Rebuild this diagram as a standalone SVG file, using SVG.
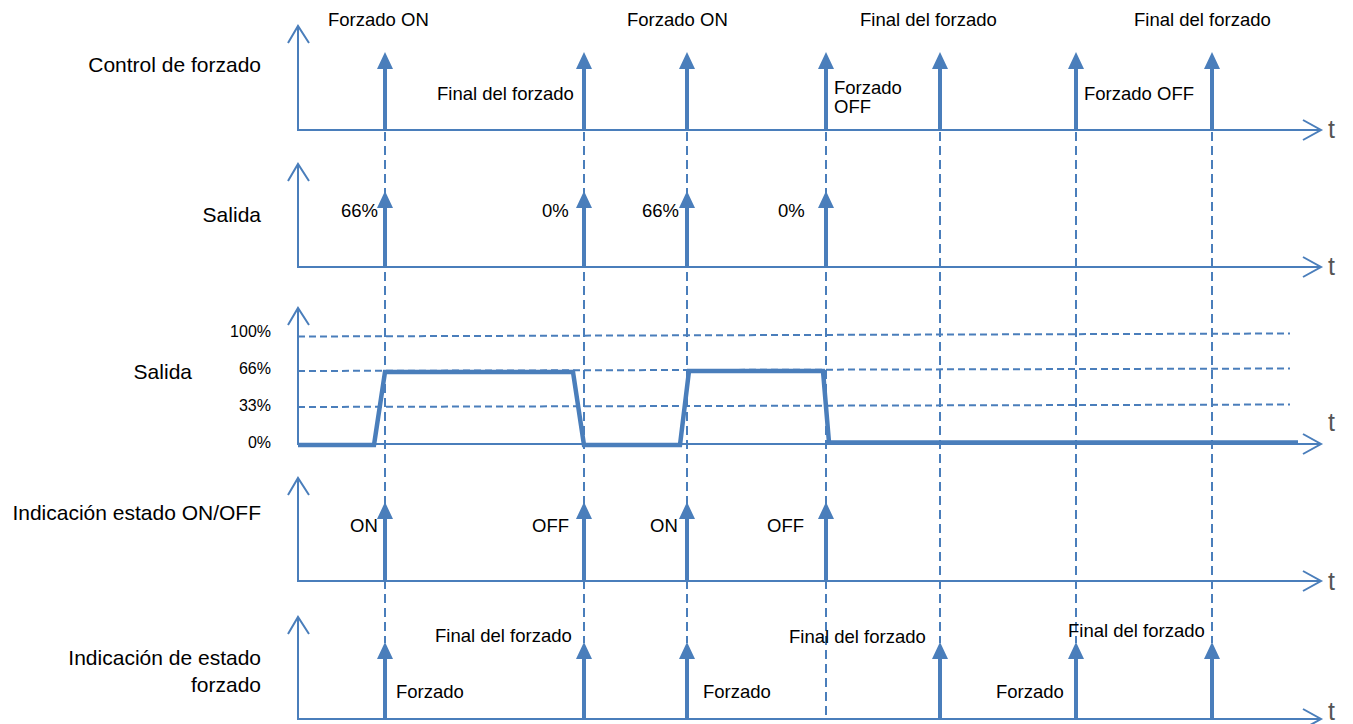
<svg xmlns="http://www.w3.org/2000/svg" width="1353" height="724" viewBox="0 0 1353 724">
<style>
text{font-family:"Liberation Sans",Arial,Helvetica,sans-serif;fill:#000}
.lbl{font-size:21px;text-anchor:end}
.ev{font-size:18.5px}
.tick{font-size:16px;text-anchor:end}
.t{font-size:25px;fill:#555}
.ax{stroke:#4A7EBB;stroke-width:2;fill:none}
.shaft{stroke:#4A7EBB;stroke-width:4;fill:none}
.head{fill:#4A7EBB}
.vd{stroke:#4A7EBB;stroke-width:2;stroke-dasharray:9 5;fill:none}
.hd{stroke:#4A7EBB;stroke-width:2;stroke-dasharray:7 4;fill:none}
.wave{stroke:#4A7EBB;stroke-width:4.5;fill:none;stroke-linejoin:miter}
</style>
<rect width="1353" height="724" fill="#fff"/>
<g id="guides">
<path class="vd" d="M385,132V643 M584,132V643 M687,132V643 M826,132V718 M940,132V643 M1076,132V643 M1212,132V643"/>
</g>
<g id="panel1">
<text class="lbl" x="261" y="72">Control de forzado</text>
<path class="ax" d="M298,26V130H1321 M288,43L298,26L309,43 M1303,120L1321,130L1303,140"/>
<text class="t" x="1328" y="138">t</text>
<path class="shaft" d="M385,130V66 M584,130V66 M687,130V66 M826,130V66 M940,130V66 M1076,130V66 M1212,130V66"/>
<path class="head" d="M385,52l-8,17h16z M584,52l-8,17h16z M687,52l-8,17h16z M826,52l-8,17h16z M940,52l-8,17h16z M1076,52l-8,17h16z M1212,52l-8,17h16z"/>
<text class="ev" x="328" y="26">Forzado ON</text>
<text class="ev" x="627" y="26">Forzado ON</text>
<text class="ev" x="860" y="26">Final del forzado</text>
<text class="ev" x="1134" y="26">Final del forzado</text>
<text class="ev" x="437" y="100">Final del forzado</text>
<text class="ev" x="834" y="94">Forzado</text>
<text class="ev" x="834" y="113">OFF</text>
<text class="ev" x="1084" y="100">Forzado OFF</text>
</g>
<g id="panel2">
<text class="lbl" x="261" y="222">Salida</text>
<path class="ax" d="M298,164V267H1321 M288,181L298,164L309,181 M1303,257L1321,267L1303,277"/>
<text class="t" x="1328" y="275">t</text>
<path class="shaft" d="M385,267V205 M584,267V205 M687,267V205 M826,267V205"/>
<path class="head" d="M385,191l-8,17h16z M584,191l-8,17h16z M687,191l-8,17h16z M826,191l-8,17h16z"/>
<text class="ev" x="341" y="217">66%</text>
<text class="ev" x="542" y="217">0%</text>
<text class="ev" x="642" y="217">66%</text>
<text class="ev" x="778" y="217">0%</text>
</g>
<g id="panel3">
<text class="lbl" x="192" y="379">Salida</text>
<path class="hd" d="M298,336.5L1290,333.5 M298,371L1290,368.5 M298,407L1290,404.5"/>
<path class="ax" d="M298,308V444H1321 M288,325L298,308L309,325 M1303,434L1321,444L1303,454"/>
<path class="wave" d="M298,445H374L385,372H573L584,445H680L689,371H823L829,442.5H1298"/>
<text class="t" x="1328" y="431">t</text>
<text class="tick" x="271" y="337">100%</text>
<text class="tick" x="271" y="374">66%</text>
<text class="tick" x="271" y="411">33%</text>
<text class="tick" x="271" y="448">0%</text>
</g>
<g id="panel4">
<text class="lbl" x="261" y="520">Indicación estado ON/OFF</text>
<path class="ax" d="M298,478V581H1321 M288,495L298,478L309,495 M1303,571L1321,581L1303,591"/>
<text class="t" x="1328" y="590">t</text>
<path class="shaft" d="M385,581V516 M584,581V516 M687,581V516 M826,581V516"/>
<path class="head" d="M385,502l-8,17h16z M584,502l-8,17h16z M687,502l-8,17h16z M826,502l-8,17h16z"/>
<text class="ev" x="350" y="532">ON</text>
<text class="ev" x="532" y="532">OFF</text>
<text class="ev" x="650" y="532">ON</text>
<text class="ev" x="767" y="532">OFF</text>
</g>
<g id="panel5">
<text class="lbl" x="261" y="665">Indicación de estado</text>
<text class="lbl" x="261" y="692">forzado</text>
<path class="ax" d="M298,617V719H1321 M288,634L298,617L309,634 M1303,709L1321,719L1303,729"/>
<text class="t" x="1328" y="720">t</text>
<path class="shaft" d="M385,719V655 M584,719V655 M687,719V655 M940,719V655 M1076,719V655 M1212,719V655"/>
<path class="head" d="M385,642l-8,17h16z M584,642l-8,17h16z M687,642l-8,17h16z M940,642l-8,17h16z M1076,642l-8,17h16z M1212,642l-8,17h16z"/>
<text class="ev" x="435" y="642">Final del forzado</text>
<text class="ev" x="789" y="643">Final del forzado</text>
<text class="ev" x="1068" y="637">Final del forzado</text>
<text class="ev" x="396" y="698">Forzado</text>
<text class="ev" x="703" y="698">Forzado</text>
<text class="ev" x="996" y="698">Forzado</text>
</g>
</svg>
